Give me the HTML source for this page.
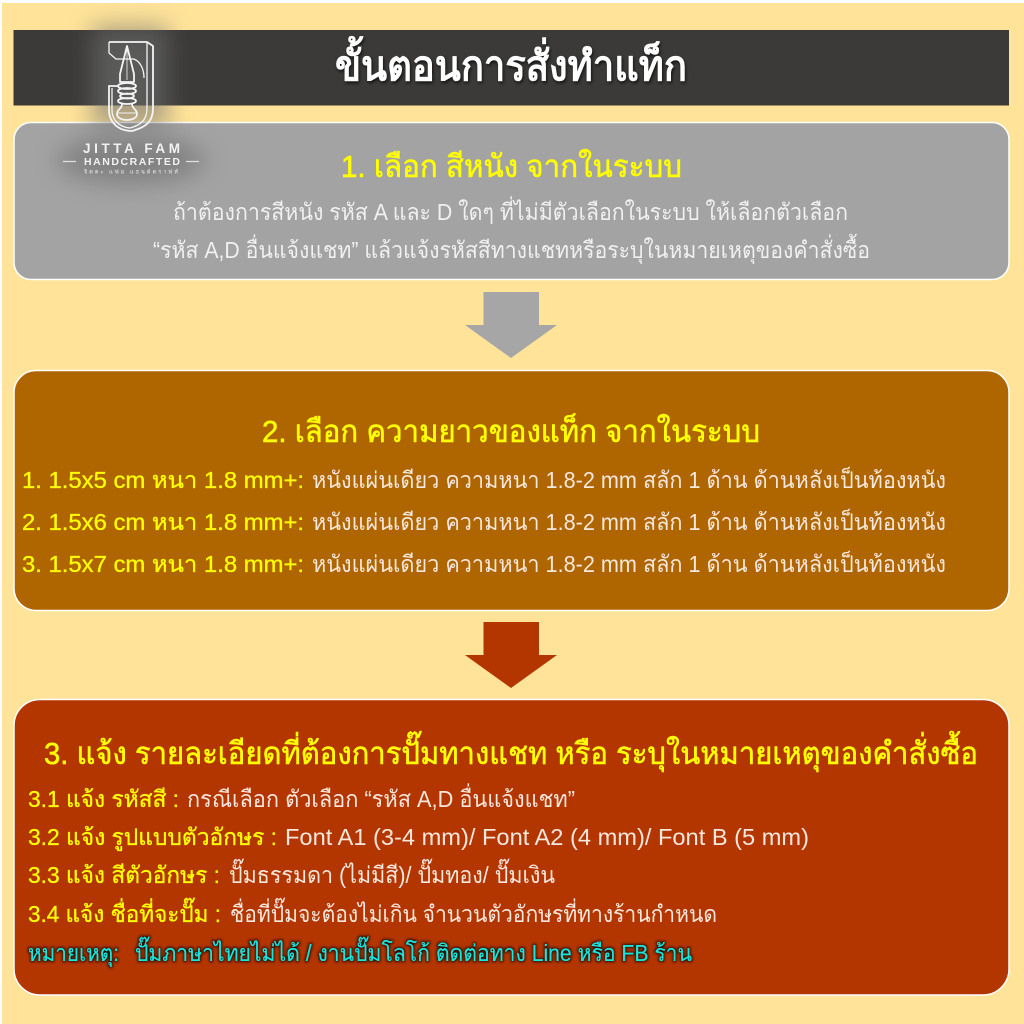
<!DOCTYPE html>
<html><head><meta charset="utf-8"><style>
html,body{margin:0;padding:0;background:#fff}
svg{display:block}
text{font-family:"Liberation Sans","DejaVu Sans","Noto Sans CJK SC",sans-serif}
.y{fill:#FFFF00;font-size:23px;stroke:#FFFF00;stroke-width:.3px}
.w{fill:#F7E8DE;font-size:23px}
.g{fill:#F0F0F0;font-size:23px}
.h{fill:#FFFF00;font-size:31px;stroke:#FFFF00;stroke-width:.55px}
</style></head><body>
<svg width="1024" height="1024" viewBox="0 0 1024 1024" xmlns="http://www.w3.org/2000/svg">
<defs>
<filter id="b" x="-50%" y="-50%" width="200%" height="200%"><feGaussianBlur stdDeviation="12"/></filter>
<filter id="ts" x="-5%" y="-20%" width="110%" height="150%"><feDropShadow dx="1" dy="2" stdDeviation="1.5" flood-color="#000" flood-opacity=".7"/></filter>
<filter id="gl" x="-5%" y="-30%" width="110%" height="160%"><feMorphology in="SourceAlpha" operator="dilate" radius="1.2" result="d"/><feGaussianBlur in="d" stdDeviation="1.3" result="g"/><feFlood flood-color="#221000"/><feComposite in2="g" operator="in"/><feMerge><feMergeNode/><feMergeNode in="SourceGraphic"/></feMerge></filter>
</defs>
<rect x="2" y="3" width="1022" height="1021" fill="#FFE399"/>
<rect x="13.5" y="30" width="995.5" height="75.5" fill="#3B3A38"/>
<rect x="14" y="122.5" width="995" height="157" rx="17" fill="#A3A3A3" stroke="#fff" stroke-width="1.5"/>
<polygon points="483.5,292 539,292 539,325 557,325 511,358 465,325 483.5,325" fill="#A6A6A6"/>
<rect x="14" y="370.5" width="995" height="240" rx="22" fill="#AF6500" stroke="#fff" stroke-width="1.5"/>
<polygon points="483.5,622 539,622 539,655 557,655 511,688 465,655 483.5,655" fill="#B33500"/>
<rect x="14" y="699.5" width="995" height="295.5" rx="26" fill="#B33500" stroke="#fff" stroke-width="1.5"/>

<rect x="92" y="26" width="76" height="100" fill="#707070" opacity=".6" filter="url(#b)"/>
<ellipse cx="131" cy="160" rx="74" ry="24" fill="#666" opacity=".55" filter="url(#b)"/>

<g fill="none" stroke="#F4F4F4" stroke-width="1.8" stroke-linejoin="round">
<path d="M109 42H147L153 46V108C153 122 146 127 132 131C118 131 109 122 109 110V86H118"/>
<path d="M147 42V108C147 120 141 125 130 128C119 127 112 120 112 110V88" stroke-width="1.3"/>
<path d="M109 42V53L116 59H134C141 62 144 70 144 78" stroke-width="1.3"/>
<path d="M127 46L120 74L120 82H134L134 74Z"/>
<path d="M127 46V80" stroke-width=".8"/>
<ellipse cx="127" cy="86" rx="9" ry="3"/><ellipse cx="127" cy="91" rx="9" ry="3"/><ellipse cx="127" cy="96" rx="7" ry="2.500"/><ellipse cx="127" cy="101" rx="9" ry="3"/>
<path d="M122 104C122 109 117 109 117 114C117 118 122 120 127 120C132 120 137 118 137 114C137 109 132 109 132 104"/>
<path d="M117 113H137" stroke-width="1"/>
</g>
<text x="83" y="153" font-size="13.500" font-weight="700" fill="#F2F2F2" textLength="97" lengthAdjust="spacing">JITTA FAM</text>
<text x="84" y="165" font-size="10.500" font-weight="700" fill="#F2F2F2" textLength="96" lengthAdjust="spacing">HANDCRAFTED</text>
<text x="84" y="173.500" font-size="5.500" fill="#E8E8E8" textLength="94" lengthAdjust="spacing">จิตตะ แฟม แฮนด์คราฟท์</text>
<path d="M63 161.500H76M186 161.500H199" stroke="#E0E0E0" stroke-width="1.200"/>

<text x="335" y="80" font-size="41" font-weight="700" fill="#fff" filter="url(#ts)" textLength="352" lengthAdjust="spacingAndGlyphs">ขั้นตอนการสั่งทำแท็ก</text>

<text class="h" x="341" y="177" textLength="341" lengthAdjust="spacingAndGlyphs">1. เลือก สีหนัง จากในระบบ</text>
<text class="g" x="173" y="220" textLength="675" lengthAdjust="spacingAndGlyphs">ถ้าต้องการสีหนัง รหัส A และ D ใดๆ ที่ไม่มีตัวเลือกในระบบ ให้เลือกตัวเลือก</text>
<text class="g" x="153" y="258" textLength="717" lengthAdjust="spacingAndGlyphs">“รหัส A,D อื่นแจ้งแชท” แล้วแจ้งรหัสสีทางแชทหรือระบุในหมายเหตุของคำสั่งซื้อ</text>

<text class="h" x="262" y="442" textLength="498" lengthAdjust="spacingAndGlyphs">2. เลือก ความยาวของแท็ก จากในระบบ</text>
<text class="y" x="22" y="488" textLength="282" lengthAdjust="spacingAndGlyphs">1. 1.5x5 cm หนา 1.8 mm+:</text>
<text class="w" x="312" y="488" textLength="634" lengthAdjust="spacingAndGlyphs">หนังแผ่นเดียว ความหนา 1.8-2 mm สลัก 1 ด้าน ด้านหลังเป็นท้องหนัง</text>
<text class="y" x="22" y="530" textLength="282" lengthAdjust="spacingAndGlyphs">2. 1.5x6 cm หนา 1.8 mm+:</text>
<text class="w" x="312" y="530" textLength="634" lengthAdjust="spacingAndGlyphs">หนังแผ่นเดียว ความหนา 1.8-2 mm สลัก 1 ด้าน ด้านหลังเป็นท้องหนัง</text>
<text class="y" x="22" y="572" textLength="282" lengthAdjust="spacingAndGlyphs">3. 1.5x7 cm หนา 1.8 mm+:</text>
<text class="w" x="312" y="572" textLength="634" lengthAdjust="spacingAndGlyphs">หนังแผ่นเดียว ความหนา 1.8-2 mm สลัก 1 ด้าน ด้านหลังเป็นท้องหนัง</text>

<text class="h" x="44" y="764" textLength="934" lengthAdjust="spacingAndGlyphs">3. แจ้ง รายละเอียดที่ต้องการปั๊มทางแชท หรือ ระบุในหมายเหตุของคำสั่งซื้อ</text>
<text class="y" x="28" y="807" textLength="151" lengthAdjust="spacingAndGlyphs">3.1 แจ้ง รหัสสี :</text>
<text class="w" x="187" y="807" textLength="388" lengthAdjust="spacingAndGlyphs">กรณีเลือก ตัวเลือก “รหัส A,D อื่นแจ้งแชท”</text>
<text class="y" x="28" y="845" textLength="249" lengthAdjust="spacingAndGlyphs">3.2 แจ้ง รูปแบบตัวอักษร :</text>
<text class="w" x="285" y="845" textLength="524" lengthAdjust="spacingAndGlyphs">Font A1 (3-4 mm)/ Font A2 (4 mm)/ Font B (5 mm)</text>
<text class="y" x="28" y="883" textLength="192" lengthAdjust="spacingAndGlyphs">3.3 แจ้ง สีตัวอักษร :</text>
<text class="w" x="229" y="883" textLength="326" lengthAdjust="spacingAndGlyphs">ปั๊มธรรมดา (ไม่มีสี)/ ปั๊มทอง/ ปั๊มเงิน</text>
<text class="y" x="28" y="922" textLength="193" lengthAdjust="spacingAndGlyphs">3.4 แจ้ง ชื่อที่จะปั๊ม :</text>
<text class="w" x="230" y="922" textLength="487" lengthAdjust="spacingAndGlyphs">ชื่อที่ปั๊มจะต้องไม่เกิน จำนวนตัวอักษรที่ทางร้านกำหนด</text>
<g filter="url(#gl)" fill="#19E6E0" font-size="23">
<text x="28" y="961" textLength="91" lengthAdjust="spacingAndGlyphs">หมายเหตุ:</text>
<text x="135" y="961" textLength="557" lengthAdjust="spacingAndGlyphs">ปั๊มภาษาไทยไม่ได้ / งานปั๊มโลโก้ ติดต่อทาง Line หรือ FB ร้าน</text>
</g>
</svg>
</body></html>
